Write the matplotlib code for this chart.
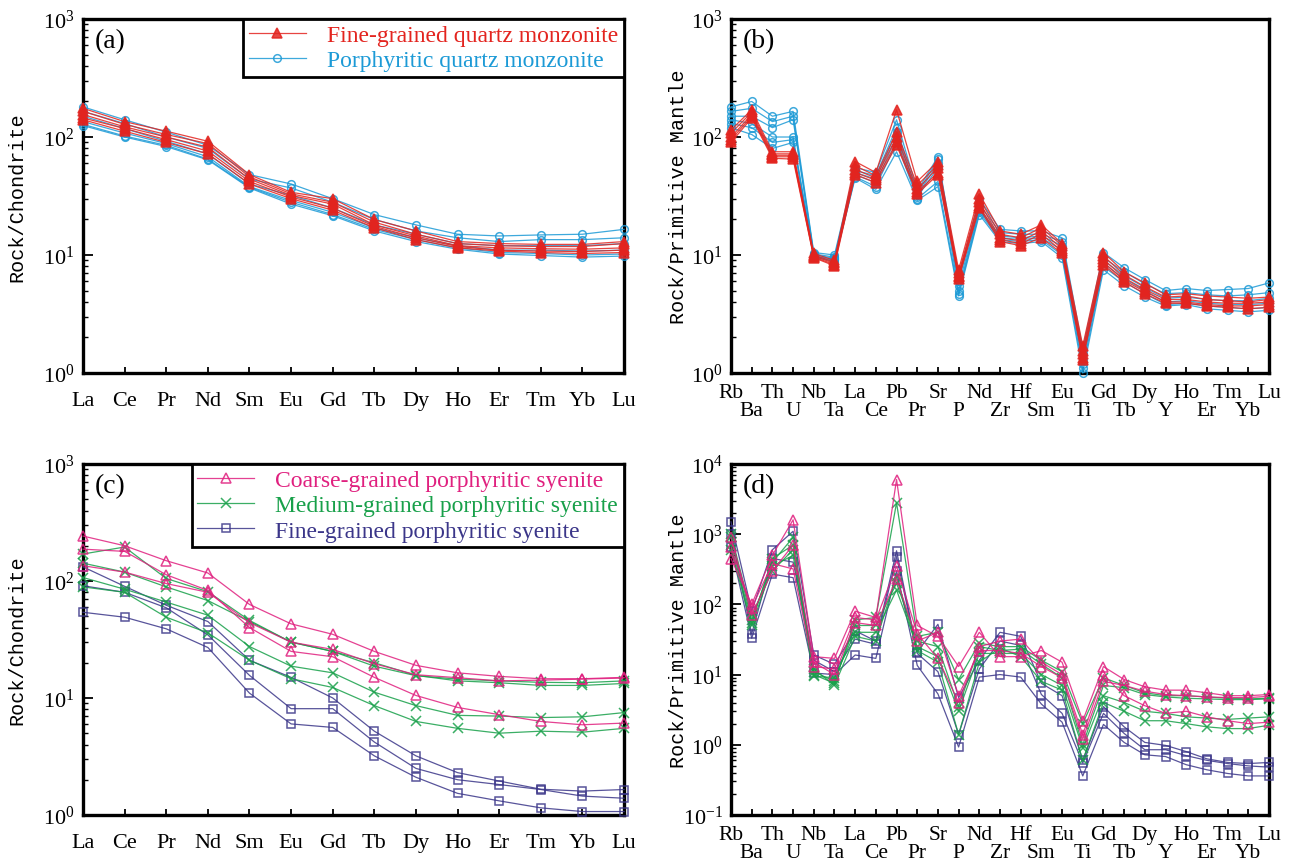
import matplotlib
matplotlib.use("Agg")
import matplotlib.pyplot as plt
import numpy as np
from matplotlib.ticker import LogLocator, NullFormatter, FixedLocator, FixedFormatter

plt.rcParams['font.family'] = ['Liberation Serif', 'DejaVu Serif']
plt.rcParams['mathtext.fontset'] = 'stix'

# ---- element lists ----
REE = ["La", "Ce", "Pr", "Nd", "Sm", "Eu", "Gd", "Tb", "Dy", "Ho", "Er", "Tm", "Yb", "Lu"]
SPIDER = ["Rb", "Ba", "Th", "U", "Nb", "Ta", "La", "Ce", "Pb", "Pr", "Sr", "P", "Nd", "Zr",
          "Hf", "Sm", "Eu", "Ti", "Gd", "Tb", "Dy", "Y", "Ho", "Er", "Tm", "Yb", "Lu"]

# ---- (a) chondrite-normalised REE, quartz monzonites ----
fine_qm_ree = [
    [175, 135, 112, 92, 48, 34, 30, 20, 16, 13, 12.5, 12.3, 12.3, 13],
    [165, 128, 105, 88, 46, 33, 28, 19, 15, 12.5, 12, 11.8, 11.8, 12.5],
    [155, 122, 100, 82, 44, 32, 27, 18, 14.5, 12, 11.5, 11.3, 11.2, 11.5],
    [145, 118, 95, 76, 42, 31, 25, 17.5, 14, 11.8, 11, 10.8, 10.7, 11],
    [140, 112, 90, 72, 40, 30, 24, 17, 13.5, 11.5, 10.8, 10.5, 10.3, 10.5],
]
porph_qm_ree = [
    [180, 140, 110, 85, 48, 40, 30, 22, 18, 15, 14.5, 14.8, 15, 16.5],
    [165, 130, 100, 80, 44, 37, 28, 20, 16, 14, 13, 13.5, 13.5, 14],
    [150, 118, 92, 72, 40, 32, 25, 18, 15, 12.5, 12, 12, 12, 12.5],
    [135, 108, 88, 68, 38, 29, 23, 17, 14, 12, 11, 11, 10.8, 11],
    [128, 102, 85, 65, 37.5, 28, 22, 16.5, 13.5, 11.5, 10.5, 10.3, 10, 10.2],
    [125, 100, 83, 64, 37, 27, 21.5, 16, 13, 11.2, 10.2, 9.9, 9.6, 9.8],
]

# ---- (b) primitive-mantle-normalised, quartz monzonites ----
fine_qm_pm = [
    [115, 170, 75, 75, 10.3, 9.0, 62, 50, 170, 42, 62, 7.5, 33, 16, 15, 18, 12.5, 1.7, 10.5, 7.2, 5.8, 4.6, 4.7, 4.5, 4.4, 4.3, 4.4],
    [108, 162, 72, 72, 10.0, 8.7, 57, 47, 110, 39, 58, 7.0, 30, 15, 14, 17, 12, 1.55, 9.8, 6.8, 5.4, 4.4, 4.5, 4.2, 4.1, 4.0, 4.2],
    [100, 155, 70, 70, 9.8, 8.5, 53, 45, 100, 36, 55, 6.7, 28, 14, 13.2, 16, 11.3, 1.45, 9.2, 6.4, 5.1, 4.2, 4.2, 4.0, 3.9, 3.9, 4.0],
    [95, 150, 68, 68, 9.6, 8.3, 50, 43, 90, 34, 50, 6.5, 26, 13.5, 12.5, 15, 10.8, 1.35, 8.7, 6.1, 4.9, 4.0, 4.0, 3.8, 3.7, 3.7, 3.8],
    [90, 145, 66, 65, 9.5, 8.1, 48, 41, 85, 33, 48, 6.3, 25, 13, 12, 14, 10.3, 1.3, 8.3, 5.9, 4.7, 3.9, 3.9, 3.7, 3.6, 3.5, 3.6],
]
porph_qm_pm = [
    [180, 200, 150, 165, 10.5, 10.0, 55, 50, 140, 35, 68, 6.5, 30, 16.5, 16, 16, 14, 1.6, 10.5, 7.8, 6.2, 5.0, 5.2, 5.0, 5.1, 5.2, 5.8],
    [165, 175, 135, 150, 10.2, 9.6, 52, 47, 120, 33, 65, 6.0, 27, 15.5, 15, 15, 13, 1.45, 9.5, 7.2, 5.7, 4.7, 4.8, 4.6, 4.5, 4.6, 4.8],
    [150, 150, 120, 140, 10.0, 9.4, 50, 44, 110, 32, 60, 5.5, 25, 14.5, 14, 14.5, 12, 1.3, 9.0, 6.7, 5.3, 4.3, 4.4, 4.2, 4.1, 4.1, 4.3],
    [140, 130, 100, 100, 9.8, 9.2, 48, 41, 100, 31, 55, 5.0, 24, 14, 13.5, 14, 11, 1.2, 8.5, 6.3, 5.0, 4.0, 4.1, 3.9, 3.8, 3.8, 3.9],
    [130, 120, 90, 95, 9.7, 9.0, 46, 38, 90, 30, 42, 4.7, 23, 13.5, 13, 13.5, 10, 1.1, 8.0, 5.9, 4.7, 3.8, 3.9, 3.7, 3.6, 3.5, 3.6],
    [120, 105, 80, 90, 9.6, 8.8, 45, 36, 75, 29, 38, 4.5, 22, 13, 12.5, 13, 9.5, 1.0, 7.5, 5.5, 4.4, 3.7, 3.8, 3.5, 3.4, 3.3, 3.4],
]

# ---- (c) chondrite-normalised REE, syenites ----
coarse_ps_ree = [
    [242, 200, 149, 117, 63, 43, 35, 25, 19, 16.4, 15.3, 14.6, 14.6, 15],
    [187, 179, 113, 83, 40, 25, 22.5, 15, 10.5, 8.3, 7.2, 6.3, 5.9, 6.1],
    [135, 119, 95, 80, 44, 30, 26, 19.6, 15.8, 14.9, 14, 14.2, 14.5, 14.8],
]
medium_ps_ree = [
    [170, 195, 105, 81, 46, 30, 25, 20, 15.6, 14, 13.5, 12.8, 12.8, 13.3],
    [142, 119, 89, 68, 45, 30, 25, 18.7, 15.5, 14.5, 14, 13.6, 13.5, 14],
    [107, 85, 66, 51, 27.5, 18.7, 16.4, 11.2, 8.6, 7.1, 7.0, 6.8, 6.9, 7.5],
    [89, 80, 49, 36, 21, 14.6, 12.3, 8.6, 6.3, 5.5, 5.0, 5.2, 5.1, 5.5],
]
finegr_ps_ree = [
    [132, 90, 62, 45, 21, 15, 10, 5.2, 3.2, 2.3, 1.95, 1.66, 1.6, 1.65],
    [91, 80, 59, 34.6, 15.6, 8.1, 8.1, 4.2, 2.5, 2.0, 1.82, 1.65, 1.45, 1.39],
    [54, 49, 39, 27, 11, 6.0, 5.6, 3.2, 2.1, 1.53, 1.32, 1.15, 1.07, 1.07],
]

# ---- (d) primitive-mantle-normalised, syenites ----
coarse_ps_pm = [
    [450, 100, 500, 1600, 18, 17, 80, 65, 6000, 50, 35, 13, 40, 18, 18, 22, 15, 2.2, 13, 8.5, 6.7, 6.0, 6.0, 5.5, 5.0, 5.0, 5.2],
    [650, 90, 380, 320, 13, 12, 65, 60, 350, 38, 17, 4.0, 25, 30, 32, 15, 10, 1.4, 10, 5.0, 3.6, 2.8, 3.0, 2.5, 2.2, 2.0, 2.1],
    [900, 70, 300, 700, 15, 10, 55, 50, 230, 30, 40, 5.0, 22, 22, 20, 13, 9, 1.2, 8, 7.0, 5.8, 5.2, 5.0, 4.8, 4.7, 4.7, 4.9],
]
medium_ps_pm = [
    [900, 60, 400, 900, 10, 7.5, 60, 65, 2800, 35, 40, 8.5, 28, 25, 25, 16, 11, 2.0, 9, 7.0, 5.5, 5.0, 5.0, 4.8, 4.6, 4.5, 4.6],
    [700, 55, 450, 700, 11, 8, 50, 50, 200, 30, 25, 3.5, 25, 22, 23, 14, 9, 1.0, 7, 6.5, 5.2, 4.8, 4.6, 4.5, 4.4, 4.4, 4.5],
    [600, 50, 350, 500, 9.5, 9, 40, 40, 160, 25, 18, 3.0, 20, 20, 20, 10, 7, 0.9, 5, 4.0, 3.0, 2.8, 2.5, 2.4, 2.3, 2.4, 2.5],
    [1000, 70, 300, 600, 12, 7, 35, 30, 250, 22, 15, 1.4, 15, 24, 18, 8, 6, 0.6, 4, 3.0, 2.2, 2.2, 2.0, 1.8, 1.7, 1.7, 1.9],
]
finegr_ps_pm = [
    [1500, 80, 600, 1100, 19, 14, 42, 30, 580, 21, 52, 4.7, 16, 40, 35, 7.5, 5.0, 0.6, 3.5, 1.8, 1.08, 0.98, 0.8, 0.63, 0.56, 0.54, 0.56],
    [1000, 38, 450, 400, 16, 11, 32, 27, 480, 20, 11, 1.4, 12, 30, 26, 5.2, 2.8, 0.55, 2.8, 1.45, 0.85, 0.85, 0.7, 0.6, 0.54, 0.5, 0.48],
    [650, 33, 270, 240, 10.5, 10, 19, 17, 300, 13.5, 5.3, 0.93, 9.2, 10, 9.2, 3.8, 2.1, 0.36, 1.95, 1.08, 0.72, 0.68, 0.52, 0.44, 0.39, 0.36, 0.36],
]

RED = "#e3241f"
BLUE = "#1c9ad6"
PINK = "#e0207f"
GREEN = "#18a04a"
NAVY = "#3b3689"


def setup_axis(ax, names, ylo, yhi, ylabel, label_x, two_rows):
    n = len(names)
    ax.set_yscale("log")
    ax.set_xlim(0, n - 1)
    ax.set_ylim(ylo, yhi)
    ax.yaxis.set_major_locator(LogLocator(base=10, numticks=10))
    ax.yaxis.set_minor_locator(LogLocator(base=10, subs=np.arange(2, 10), numticks=20))
    ax.yaxis.set_minor_formatter(NullFormatter())
    if two_rows:
        # even elements on the upper row, odd ones staggered below
        ev = np.arange(0, n, 2)
        od = np.arange(1, n, 2)
        ax.xaxis.set_major_locator(FixedLocator(ev))
        ax.xaxis.set_major_formatter(FixedFormatter([names[i] for i in ev]))
        ax.xaxis.set_minor_locator(FixedLocator(od))
        ax.xaxis.set_minor_formatter(FixedFormatter([names[i] for i in od]))
        ax.tick_params(axis="x", which="major", direction="in", length=4, width=1.3,
                       pad=7, labelsize=15.5)
        ax.tick_params(axis="x", which="minor", direction="in", length=4, width=1.3,
                       pad=20, labelsize=15.5)
    else:
        ax.set_xticks(np.arange(n))
        ax.set_xticklabels(names)
        ax.tick_params(axis="x", direction="in", length=4, width=1.3, pad=13, labelsize=16)
    ax.tick_params(axis="y", which="major", direction="in", length=7, width=1.3,
                   labelsize=16, pad=6)
    ax.tick_params(axis="y", which="minor", direction="in", length=3.5, width=1.0)
    for sp in ax.spines.values():
        sp.set_linewidth(2.4)
    ax.set_ylabel(ylabel, family=["Liberation Mono", "DejaVu Sans Mono"], fontsize=14.5)
    ax.yaxis.set_label_coords(label_x, 0.5)


def draw(ax, groups):
    # groups: (series list, colour, marker, filled, marker size, legend text)
    handles = []
    for series, col, mk, filled, ms, text in groups:
        for k, vals in enumerate(series):
            h, = ax.plot(np.arange(len(vals)), vals, color=col, lw=0.9, alpha=0.85,
                         marker=mk, ms=ms, mew=1.1,
                         mfc=col if filled else "none", mec=col,
                         label=text if k == 0 else None, clip_on=False, zorder=3)
            if k == 0:
                handles.append(h)
    return handles


def add_legend(ax, handles, colors):
    leg = ax.legend(handles=handles, loc="upper right", fontsize=17, frameon=True,
                    fancybox=False, edgecolor="black", borderaxespad=0.0, handlelength=2.4,
                    borderpad=0.25, labelspacing=0.15, handletextpad=0.9, framealpha=1)
    leg.get_frame().set_linewidth(2.0)
    for t, c in zip(leg.get_texts(), colors):
        t.set_color(c)


fig = plt.figure(figsize=(12.95, 8.62), dpi=100)
ax_a = fig.add_axes([0.0641, 0.5661, 0.4178, 0.4107])
ax_b = fig.add_axes([0.5645, 0.5661, 0.4154, 0.4107])
ax_c = fig.add_axes([0.0641, 0.0534, 0.4178, 0.4072])
ax_d = fig.add_axes([0.5645, 0.0534, 0.4154, 0.4072])

# (a)
setup_axis(ax_a, REE, 1, 1000, "Rock/Chondrite", -0.105, False)
h = draw(ax_a, [(porph_qm_ree, BLUE, "o", False, 5.5, "Porphyritic quartz monzonite"),
                (fine_qm_ree, RED, "^", True, 7, "Fine-grained quartz monzonite")])
add_legend(ax_a, [h[1], h[0]], [RED, BLUE])
ax_a.text(0.022, 0.975, "(a)", transform=ax_a.transAxes, fontsize=20, va="top", ha="left")

# (b)
setup_axis(ax_b, SPIDER, 1, 1000, "Rock/Primitive Mantle", -0.08, True)
draw(ax_b, [(porph_qm_pm, BLUE, "o", False, 5.5, None),
            (fine_qm_pm, RED, "^", True, 7, None)])
ax_b.text(0.022, 0.975, "(b)", transform=ax_b.transAxes, fontsize=20, va="top", ha="left")

# (c)
setup_axis(ax_c, REE, 1, 1000, "Rock/Chondrite", -0.105, False)
h = draw(ax_c, [(finegr_ps_ree, NAVY, "s", False, 6, "Fine-grained porphyritic syenite"),
                (medium_ps_ree, GREEN, "x", False, 7, "Medium-grained porphyritic syenite"),
                (coarse_ps_ree, PINK, "^", False, 7.5, "Coarse-grained porphyritic syenite")])
add_legend(ax_c, [h[2], h[1], h[0]], [PINK, GREEN, NAVY])
ax_c.text(0.022, 0.975, "(c)", transform=ax_c.transAxes, fontsize=20, va="top", ha="left")

# (d)
setup_axis(ax_d, SPIDER, 0.1, 10000, "Rock/Primitive Mantle", -0.08, True)
draw(ax_d, [(finegr_ps_pm, NAVY, "s", False, 6, None),
            (medium_ps_pm, GREEN, "x", False, 7, None),
            (coarse_ps_pm, PINK, "^", False, 7.5, None)])
ax_d.text(0.022, 0.975, "(d)", transform=ax_d.transAxes, fontsize=20, va="top", ha="left")

fig.savefig("out.png", dpi=100)
